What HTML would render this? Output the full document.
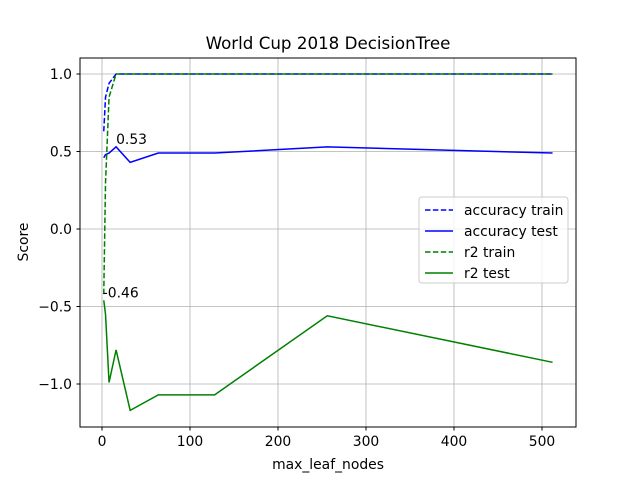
<!DOCTYPE html>
<html><head><meta charset="utf-8"><style>
body{margin:0;background:#fff}
svg{display:block;font-family:"DejaVu Sans","Liberation Sans",sans-serif}
</style></head><body>
<svg id="chart" width="640" height="480">
<rect width="640" height="480" fill="#fff"/>
<text x="328" y="49" font-size="16.7" text-anchor="middle">World Cup 2018 DecisionTree</text>
<g id="grid"></g>
<g id="series"></g>
<rect x="80" y="58" width="496" height="369" fill="none" stroke="#000" stroke-width="1"/>
<g id="ticks"></g>
<text x="328" y="469" font-size="13.9" text-anchor="middle">max_leaf_nodes</text>
<text transform="translate(28,242) rotate(-90)" font-size="13.9" text-anchor="middle">Score</text>
<g>
<rect x="419" y="197" width="149" height="86" rx="3" fill="#fff" fill-opacity="0.8" stroke="#ccc"/>
<line x1="425" y1="210" x2="453" y2="210" stroke="#0000ff" stroke-width="1.5" stroke-dasharray="5.5,2.4"/>
<text x="464" y="215" font-size="13.9">accuracy train</text>
<line x1="425" y1="231" x2="453" y2="231" stroke="#0000ff" stroke-width="1.5"/>
<text x="464" y="236" font-size="13.9">accuracy test</text>
<line x1="425" y1="252" x2="453" y2="252" stroke="#008000" stroke-width="1.5" stroke-dasharray="5.5,2.4"/>
<text x="464" y="257" font-size="13.9">r2 train</text>
<line x1="425" y1="273" x2="453" y2="273" stroke="#008000" stroke-width="1.5"/>
<text x="464" y="278" font-size="13.9">r2 test</text>
</g>
</svg>
<script>
const leafNodes = [2, 4, 8, 16, 32, 64, 128, 256, 512];
const accTrain = [0.63, 0.85, 0.94, 1.0, 1.0, 1.0, 1.0, 1.0, 1.0];
const accTest = [0.46, 0.48, 0.49, 0.53, 0.43, 0.49, 0.49, 0.53, 0.49];
const r2Train = [-0.42, 0.3, 0.85, 1.0, 1.0, 1.0, 1.0, 1.0, 1.0];
const r2Test = [-0.46, -0.55, -0.99, -0.78, -1.17, -1.07, -1.07, -0.56, -0.86];
const xTicks = [0, 100, 200, 300, 400, 500];
const yTicks = [-1.0, -0.5, 0.0, 0.5, 1.0];
const xTickLabels = ["0", "100", "200", "300", "400", "500"];
const yTickLabels = ["−1.0", "−0.5", "0.0", "0.5", "1.0"];

const NS = "http://www.w3.org/2000/svg";
const X = v => 102 + v * 0.88;
const Y = v => 229 - v * 155;
function mk(tag, attrs, parent) {
  const e = document.createElementNS(NS, tag);
  for (const k in attrs) e.setAttribute(k, attrs[k]);
  parent.appendChild(e);
  return e;
}
const grid = document.getElementById("grid");
const ticks = document.getElementById("ticks");
const series = document.getElementById("series");
xTicks.forEach((t, i) => {
  const g = mk("line", {x1: X(t), x2: X(t), y1: 58, y2: 427, stroke: "#b0b0b0", "stroke-width": 0.8}, grid);
  
  
  mk("line", {x1: X(t), x2: X(t), y1: 427, y2: 430.5, stroke: "#000"}, ticks);
  const tx = mk("text", {x: X(t), y: 446, "font-size": 13.9, "text-anchor": "middle"}, ticks);
  tx.textContent = xTickLabels[i];
  
  
});
yTicks.forEach((t, i) => {
  const g = mk("line", {x1: 80, x2: 576, y1: Y(t), y2: Y(t), stroke: "#b0b0b0", "stroke-width": 0.8}, grid);
  
  
  mk("line", {x1: 76.5, x2: 80, y1: Y(t), y2: Y(t), stroke: "#000"}, ticks);
  const tx = mk("text", {x: 72, y: Y(t) + 5, "font-size": 13.9, "text-anchor": "end"}, ticks);
  tx.textContent = yTickLabels[i];
  
  
});
function line(vals, color, dash, name) {
  const pts = vals.map((v, i) => X(leafNodes[i]) + "," + Y(v)).join(" ");
  const p = mk("polyline", {points: pts, fill: "none", stroke: color, "stroke-width": 1.5}, series);
  if (dash) p.setAttribute("stroke-dasharray", "5.5,2.4");
  
  
}
line(accTrain, "#0000ff", true, "accuracy-train-line");
line(accTest, "#0000ff", false, "accuracy-test-line");
line(r2Train, "#008000", true, "r2-train-line");
line(r2Test, "#008000", false, "r2-test-line");
const maxAcc = Math.max(...accTest);
const ia = accTest.indexOf(maxAcc);
const a1 = mk("text", {x: X(leafNodes[ia]), y: Y(maxAcc) - 3, "font-size": 13.9}, series);
a1.textContent = maxAcc.toFixed(2);


const a2 = mk("text", {x: X(leafNodes[0]) - 1, y: Y(r2Test[0]) - 3, "font-size": 13.9}, series);
a2.textContent = r2Test[0].toFixed(2);


</script>
</body></html>
